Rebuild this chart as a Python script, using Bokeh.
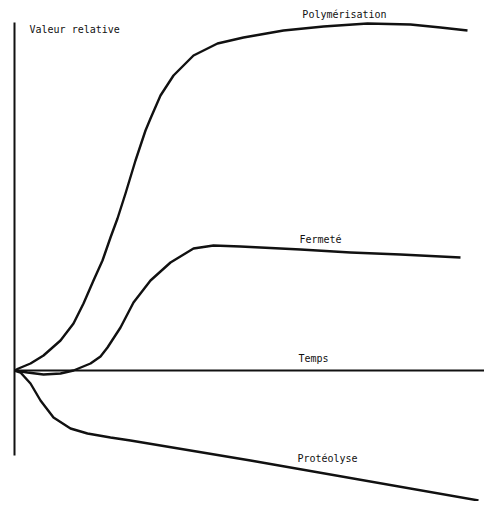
from bokeh.plotting import figure
from bokeh.models import Range1d
from bokeh.core.properties import value
from bokeh.embed import file_html
from bokeh.resources import INLINE

# Time (arbitrary units) and relative values read from the schematic
poly_t = [0, 4, 16, 29, 46, 59, 69, 79, 88, 96, 103, 111, 121, 131, 136, 146, 159, 179, 203, 229, 269, 309, 353, 396, 426, 453]
poly_v = [0, 2, 7, 15, 30, 47, 67, 90, 110, 133, 152, 177, 210, 240, 252, 275, 295, 315, 327, 333, 340, 344, 347, 346, 343, 340]

ferm_t = [0, 13, 29, 46, 59, 76, 86, 93, 106, 119, 136, 156, 179, 199, 226, 286, 336, 386, 446]
ferm_v = [0, -2, -4, -3, 0, 7, 14, 23, 43, 68, 90, 108, 122, 125, 124, 121, 118, 116, 113]

prot_t = [0, 6, 16, 26, 39, 56, 73, 96, 116, 236, 464]
prot_v = [0, -2, -13, -30, -47, -58, -63, -67, -70, -90, -130]

axis_y_top, axis_y_bottom = 348, -85
axis_x_end = 476

labels_text = ["Valeur relative", "Polymérisation", "Fermeté", "Temps", "Protéolyse"]
labels_t = [15, 330, 306, 299, 313]
labels_v = [341, 356, 131, 12, -88]
labels_align = ["left", "center", "center", "center", "center"]

p = figure(width=484, height=501, output_backend="svg", toolbar_location=None,
           x_range=Range1d(-14, 470), y_range=Range1d(-131, 370), min_border=0)
p.axis.visible = False
p.grid.visible = False
p.outline_line_color = None
p.background_fill_color = "white"

ink = "#111111"
# axes drawn as lines
p.line([0, 0], [axis_y_bottom, axis_y_top], line_color=ink, line_width=2)
p.line([0, axis_x_end], [0, 0], line_color=ink, line_width=2.2)

p.line(poly_t, poly_v, line_color=ink, line_width=2.4, line_join="round")
p.line(ferm_t, ferm_v, line_color=ink, line_width=2.4, line_join="round")
p.line(prot_t, prot_v, line_color=ink, line_width=2.4, line_join="round")

for txt, t, v, al in zip(labels_text, labels_t, labels_v, labels_align):
    p.text(x=[t], y=[v], text=[txt], text_align=al, text_baseline="middle",
           text_font=value("DejaVu Sans Mono"), text_font_size="10px",
           text_color=ink)

open("out.html", "w").write(file_html(p, INLINE))
